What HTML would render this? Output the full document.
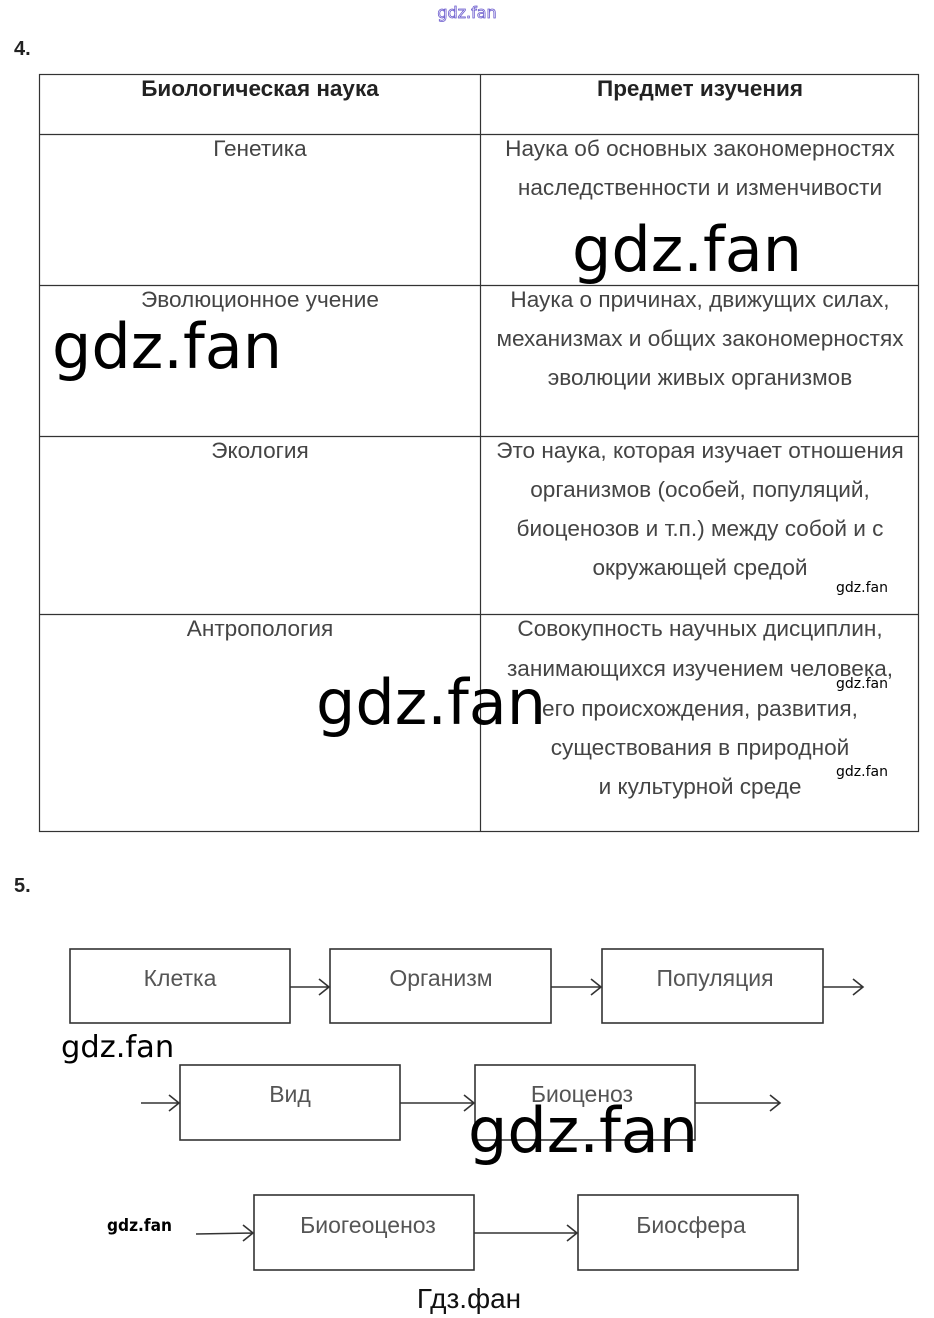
<!DOCTYPE html>
<html><head><meta charset="utf-8"><style>
html,body{margin:0;padding:0;background:#fff;}
svg{display:block;}
.t{font-family:"Liberation Sans",sans-serif;font-size:22.6px;fill:#444;text-anchor:middle;}
.h{font-family:"Liberation Sans",sans-serif;font-size:22.5px;font-weight:bold;fill:#222;text-anchor:middle;}
.w{font-family:"DejaVu Sans",sans-serif;fill:#000;}
</style></head><body>
<svg width="934" height="1318" viewBox="0 0 934 1318" xmlns="http://www.w3.org/2000/svg">
<text x="467" y="18" font-family="DejaVu Sans,sans-serif" font-size="16" fill="none" stroke="#6a5acd" stroke-width="0.8" text-anchor="middle">gdz.fan</text>
<text x="14" y="55" font-family="Liberation Sans,sans-serif" font-size="20" font-weight="bold" fill="#222">4.</text>
<g stroke="#333" stroke-width="1.2" fill="none">
<rect x="39.5" y="74.5" width="879" height="757"/>
<line x1="480.5" y1="74" x2="480.5" y2="832"/>
<line x1="39" y1="134.5" x2="919" y2="134.5"/>
<line x1="39" y1="285.5" x2="919" y2="285.5"/>
<line x1="39" y1="436.5" x2="919" y2="436.5"/>
<line x1="39" y1="614.5" x2="919" y2="614.5"/>
</g>
<text class="h" x="260" y="96">Биологическая наука</text>
<text class="h" x="700" y="96">Предмет изучения</text>
<text class="t" x="260" y="156">Генетика</text>
<text class="t" x="700" y="156">Наука об основных закономерностях</text>
<text class="t" x="700" y="195">наследственности и изменчивости</text>
<text class="t" x="260" y="307">Эволюционное учение</text>
<text class="t" x="700" y="307">Наука о причинах, движущих силах,</text>
<text class="t" x="700" y="346">механизмах и общих закономерностях</text>
<text class="t" x="700" y="385">эволюции живых организмов</text>
<text class="t" x="260" y="458">Экология</text>
<text class="t" x="700" y="458">Это наука, которая изучает отношения</text>
<text class="t" x="700" y="497">организмов (особей, популяций,</text>
<text class="t" x="700" y="536">биоценозов и т.п.) между собой и с</text>
<text class="t" x="700" y="575">окружающей средой</text>
<text class="t" x="260" y="636">Антропология</text>
<text class="t" x="700" y="636">Совокупность научных дисциплин,</text>
<text class="t" x="700" y="676">занимающихся изучением человека,</text>
<text class="t" x="700" y="716">его происхождения, развития,</text>
<text class="t" x="700" y="755">существования в природной</text>
<text class="t" x="700" y="794">и культурной среде</text>
<text class="w" x="572" y="271" font-size="62">gdz.fan</text>
<text class="w" x="52" y="368" font-size="62">gdz.fan</text>
<text class="w" x="316" y="724" font-size="62">gdz.fan</text>
<text class="w" x="836" y="592" font-size="14">gdz.fan</text>
<text class="w" x="836" y="688" font-size="14">gdz.fan</text>
<text class="w" x="836" y="776" font-size="14">gdz.fan</text>
<text x="14" y="892" font-family="Liberation Sans,sans-serif" font-size="20" font-weight="bold" fill="#222">5.</text>
<g stroke="#333" stroke-width="1.6" fill="none">
<rect x="70" y="949" width="220" height="74"/>
<rect x="330" y="949" width="221" height="74"/>
<rect x="602" y="949" width="221" height="74"/>
<rect x="180" y="1065" width="220" height="75"/>
<rect x="475" y="1065" width="220" height="75"/>
<rect x="254" y="1195" width="220" height="75"/>
<rect x="578" y="1195" width="220" height="75"/>
<path d="M290 987H329M319 979l10 8-10 8"/>
<path d="M551 987H601M591 979l10 8-10 8"/>
<path d="M823 987H863M853 979l10 8-10 8"/>
<path d="M141 1103H179M169 1095l10 8-10 8"/>
<path d="M400 1103H474M464 1095l10 8-10 8"/>
<path d="M695 1103H780M770 1095l10 8-10 8"/>
<path d="M196 1234L253 1233M243 1225l10 8-10 8"/>
<path d="M474 1233H577M567 1225l10 8-10 8"/>
</g>
<g class="t" style="fill:#555;font-size:23px">
<text x="180" y="986">Клетка</text>
<text x="441" y="986">Организм</text>
<text x="715" y="986">Популяция</text>
<text x="290" y="1102">Вид</text>
<text x="582" y="1102">Биоценоз</text>
<text x="368" y="1233">Биогеоценоз</text>
<text x="691" y="1233">Биосфера</text>
</g>
<text class="w" x="61" y="1057" font-size="30.5">gdz.fan</text>
<text class="w" x="468" y="1152" font-size="62">gdz.fan</text>
<text class="w" x="107" y="1231" font-size="17" font-weight="bold" textLength="65" lengthAdjust="spacingAndGlyphs">gdz.fan</text>
<text x="469" y="1308" font-family="Liberation Sans,sans-serif" font-size="28" fill="#111" text-anchor="middle">Гдз.фан</text>
</svg>
</body></html>
